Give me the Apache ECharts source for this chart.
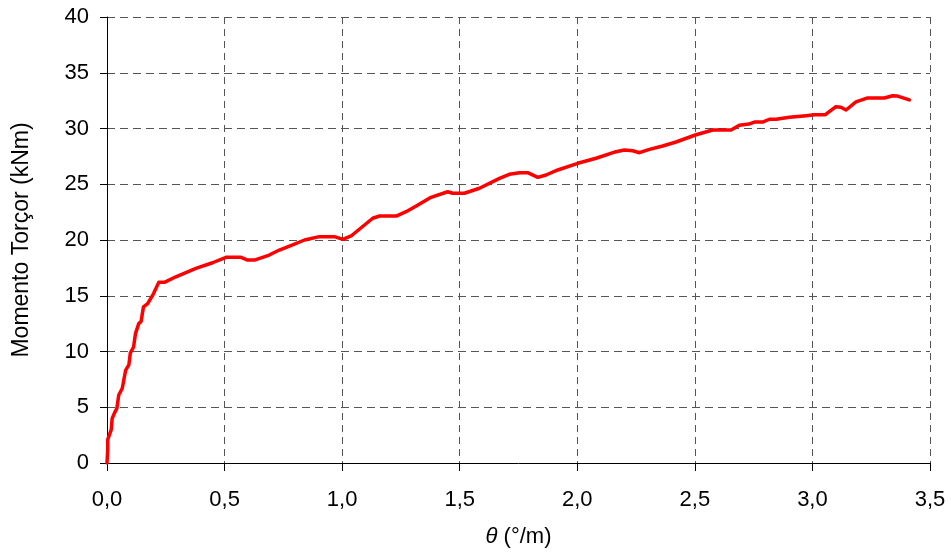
<!DOCTYPE html>
<html>
<head>
<meta charset="utf-8">
<script src="https://cdn.jsdelivr.net/npm/echarts@6/dist/echarts.min.js"></script>
<style>
  html, body { margin: 0; padding: 0; background: #fff; }
  #chart { width: 951px; height: 554px; }
</style>
</head>
<body>
<div id="chart"></div>
<script>
// rotação θ (°/m)
var theta = [0, 0.003, 0.003, 0.018, 0.022, 0.032, 0.042, 0.05, 0.065, 0.079, 0.093, 0.099, 0.113, 0.121, 0.135, 0.145, 0.155, 0.173, 0.198, 0.22, 0.244, 0.293, 0.378, 0.449, 0.506, 0.57, 0.598, 0.627, 0.69, 0.733, 0.776, 0.84, 0.903, 0.967, 1.003, 1.038, 1.13, 1.159, 1.23, 1.272, 1.315, 1.378, 1.449, 1.47, 1.52, 1.584, 1.669, 1.711, 1.754, 1.789, 1.832, 1.867, 1.917, 2.002, 2.08, 2.165, 2.2, 2.236, 2.264, 2.307, 2.363, 2.42, 2.505, 2.576, 2.654, 2.689, 2.73, 2.753, 2.788, 2.817, 2.845, 2.902, 2.973, 3.008, 3.055, 3.1, 3.121, 3.143, 3.185, 3.235, 3.306, 3.341, 3.362, 3.412];
// momento torçor (kNm)
var momento = [0, 1.2, 2.1, 3.0, 4.0, 4.5, 4.9, 6.1, 6.7, 8.3, 8.8, 9.85, 10.4, 11.6, 12.5, 12.7, 14.0, 14.3, 15.2, 16.2, 16.2, 16.7, 17.46, 17.96, 18.45, 18.45, 18.2, 18.2, 18.65, 19.1, 19.46, 20.0, 20.3, 20.3, 20.06, 20.36, 21.95, 22.15, 22.15, 22.54, 23.05, 23.83, 24.33, 24.19, 24.19, 24.64, 25.53, 25.89, 26.04, 26.04, 25.62, 25.83, 26.28, 26.88, 27.33, 27.92, 28.07, 28.0, 27.83, 28.13, 28.43, 28.79, 29.44, 29.87, 29.87, 30.3, 30.4, 30.58, 30.58, 30.83, 30.83, 31.0, 31.15, 31.24, 31.24, 31.96, 31.9, 31.66, 32.38, 32.74, 32.74, 32.94, 32.91, 32.56];

var fonte = 'Liberation Sans, Arial, sans-serif';

var pontos = [];
for (var i = 0; i < theta.length; i++) {
  pontos.push([theta[i], momento[i]]);
}

var myChart = echarts.init(document.getElementById('chart'));
myChart.setOption({
  animation: false,
  grid: { left: 107, right: 21, top: 17, bottom: 91, containLabel: false },
  xAxis: {
    type: 'value',
    min: 0, max: 3.5, interval: 0.5,
    name: '{t|θ} (°/m)',
    nameLocation: 'middle',
    nameGap: 63,
    nameTextStyle: {
      color: '#000', fontSize: 22, fontFamily: fonte,
      rich: { t: { fontStyle: 'italic', fontSize: 22, fontFamily: fonte, color: '#000' } }
    },
    axisLine: { lineStyle: { color: '#000', width: 1 } },
    axisTick: { show: true, length: 8, lineStyle: { color: '#000' } },
    axisLabel: {
      margin: 26, color: '#000', fontSize: 22, fontFamily: fonte,
      formatter: function (v) { return v.toFixed(1).replace('.', ','); }
    },
    splitLine: { show: true, lineStyle: { color: '#555', type: [7, 5], width: 1 } }
  },
  yAxis: {
    type: 'value',
    min: 0, max: 40, interval: 5,
    name: 'Momento Torçor (kNm)',
    nameLocation: 'middle',
    nameGap: 74,
    nameTextStyle: { color: '#000', fontSize: 23, fontFamily: fonte },
    axisLine: { show: true, lineStyle: { color: '#000', width: 1 } },
    axisTick: { show: true, length: 7, lineStyle: { color: '#000' } },
    axisLabel: { margin: 18, color: '#000', fontSize: 22, fontFamily: fonte },
    splitLine: { show: true, lineStyle: { color: '#555', type: [8, 5], width: 1 } }
  },
  series: [{
    type: 'line',
    data: pontos,
    showSymbol: false,
    smooth: false,
    lineStyle: { color: '#ff0000', width: 3.5, join: 'round', cap: 'round' },
    itemStyle: { color: '#ff0000' }
  }]
});
</script>
</body>
</html>
